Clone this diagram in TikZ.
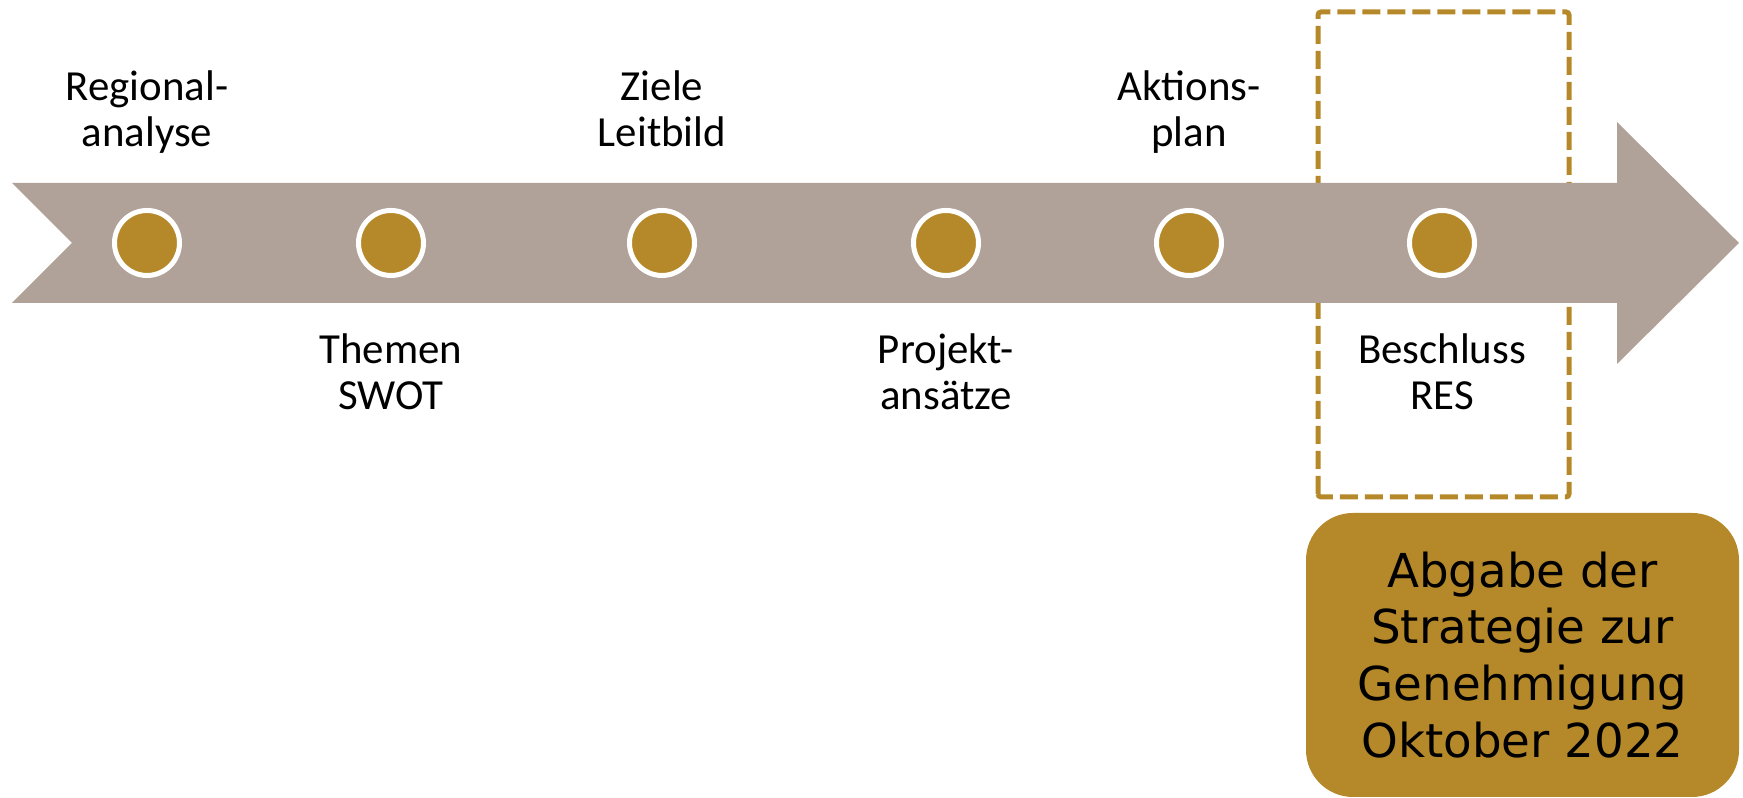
\documentclass[tikz,border=0pt]{standalone}
\usepackage{fontspec}
\setmainfont{Carlito}
\newfontfamily\boxfont{DejaVu Sans}
\usepackage{xcolor}
\definecolor{band}{RGB}{176,161,153}
\definecolor{gold}{RGB}{181,137,41}
\usetikzlibrary{positioning}

\begin{document}
\begin{tikzpicture}[dot/.style={circle,fill=gold,draw=white,line width=0.05cm,
			minimum size=0.65cm,inner sep=0pt},
			stage/.style={align=center,anchor=base,inner sep=0pt,
			font=\fontsize{12.2}{13.1}\selectfont},
			goal/.style={fill=gold,rounded corners=0.47cm,align=center,
			font=\boxfont\fontsize{13.3}{16.2}\selectfont}]
		 \useasboundingbox (0,0) rectangle (17.43,7.98);
		 % selected step
		 \draw[gold,line width=0.05cm,dash pattern=on 0.18cm off 0.07cm,rounded corners=0.03cm]
			(13.18,3.01) rectangle (15.69,7.86);
		 % time line
		 \fill[band] (0.12,6.15) -- (16.17,6.15) -- (16.17,6.76) -- (17.39,5.55)
			-- (16.17,4.34) -- (16.17,4.95) -- (0.12,4.95) -- (0.72,5.55) -- cycle;
		 \node[dot] (m1) at (1.47,5.55) {};
		 \node[dot] (m2) at (3.91,5.55) {};
		 \node[dot] (m3) at (6.62,5.55) {};
		 \node[dot] (m4) at (9.46,5.55) {};
		 \node[dot] (m5) at (11.89,5.55) {};
		 \node[dot] (m6) at (14.42,5.55) {};
		 \node[stage] (regio) at (m1 |- 0,6.51) {Regional-\\analyse};
		 \node[stage] (ziele) at (m3 |- 0,6.51) {Ziele\\Leitbild};
		 \node[stage] (aktion) at (m5 |- 0,6.51) {Aktions-\\plan};
		 \node[stage] (themen) at (m2 |- 0,3.88) {Themen\\SWOT};
		 \node[stage] (projekt) at (m4 |- 0,3.88) {Projekt-\\ansätze};
		 \node[stage] (beschluss) at (m6 |- 0,3.88) {Beschluss\\RES};
		 \path[goal] (13.06,0.01) rectangle (17.39,2.85);
		 \node[goal,fill=none] (abgabe) at (15.225,1.43) {Abgabe der\\Strategie zur\\Genehmigung\\Oktober 2022};
\end{tikzpicture}
\end{document}
